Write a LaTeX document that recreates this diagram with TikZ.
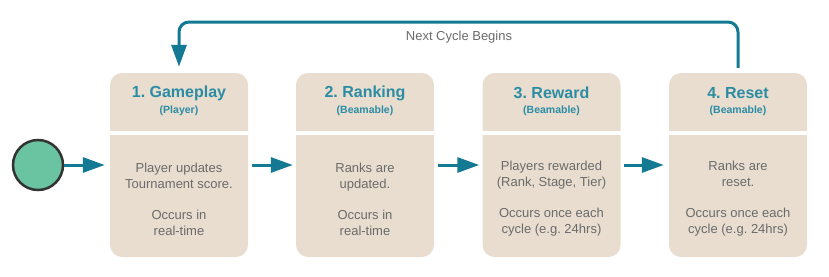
\documentclass[tikz,border=0pt]{standalone}
\usepackage{fontspec}
\setmainfont{Liberation Sans}
\usetikzlibrary{arrows.meta}
\frenchspacing
\definecolor{beige}{HTML}{E8DDCF}
\definecolor{teal1}{HTML}{147A93}
\definecolor{tealtxt}{HTML}{2B8CA4}
\definecolor{greytxt}{HTML}{6B6B6B}
\definecolor{startgreen}{HTML}{6AC4A2}
\tikzset{
  stagebox/.style={fill=beige, draw=none, rounded corners=12pt, minimum width=138pt, minimum height=184pt, inner sep=0pt},
  titletxt/.style={text=tealtxt, font=\fontsize{16}{19}\selectfont\bfseries},
  subtxt/.style={text=tealtxt, font=\fontsize{10.5}{12}\selectfont\bfseries},
  bodytxt/.style={text=greytxt, font=\fontsize{13}{16}\selectfont\frenchspacing, align=center},
  flow/.style={draw=teal1, line width=3pt, -{Triangle[length=22pt,width=15pt]}},
}
\begin{document}
\begin{tikzpicture}[x=1pt,y=-1pt]
\useasboundingbox (0,0) rectangle (829,276);
% start circle
\node[circle, fill=startgreen, draw=black!80, line width=2.5pt, minimum size=50pt, inner sep=0pt] (start) at (38,165) {};
% boxes
\foreach \n/\x in {1/179,2/365,3/551.5,4/738}{
  \node[stagebox] (b\n) at (\x,165) {};
  \draw[white, line width=3.5pt] ([yshift=-60pt]b\n.north west) -- ([yshift=-60pt]b\n.north east);
}
% headers
\node[titletxt] (t1) at (179,93) {1. Gameplay};
\node[subtxt] (s1) at (179,111) {(Player)};
\node[titletxt] (t2) at (365,93) {2. Ranking};
\node[subtxt] (s2) at (365,111) {(Beamable)};
\node[titletxt] (t3) at (551.5,93) {3. Reward};
\node[subtxt] (s3) at (551.5,111) {(Beamable)};
\node[titletxt] (t4) at (738,93) {4. Reset};
\node[subtxt] (s4) at (738,111) {(Beamable)};
% bodies
\node[bodytxt] (d1) at (179,199) {Player updates\\Tournament score.\\[15pt]Occurs in\\real-time};
\node[bodytxt] (d2) at (365,199) {Ranks are\\updated.\\[15pt]Occurs in\\real-time};
\node[bodytxt] (d3) at (551.5,199) {Players rewarded\\(Rank, Stage, Tier)\\[15pt]Occurs once each\\cycle (e.g. 24hrs)};
\node[bodytxt] (d4) at (738,199) {Ranks are\\reset.\\[15pt]Occurs once each\\cycle (e.g. 24hrs)};
% arrows
\draw[flow, shorten >=5pt] (start) -- (b1);
\draw[flow, shorten <=4pt, shorten >=3pt] (b1) -- (b2);
\draw[flow, shorten <=4pt, shorten >=3pt] (b2) -- (b3);
\draw[flow, shorten <=3pt, shorten >=5pt] (b3) -- (b4);
% loop
\coordinate (top) at (459,22);
\draw[flow, rounded corners=10pt, shorten <=5pt, shorten >=6pt] (b4.north) |- (top) -| (b1.north);
\node[text=greytxt, font=\fontsize{13}{16}\selectfont] (lbl) at (459,37) {Next Cycle Begins};
\end{tikzpicture}
\end{document}
